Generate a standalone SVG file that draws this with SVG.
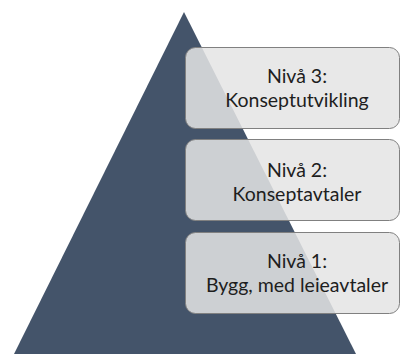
<svg xmlns="http://www.w3.org/2000/svg" width="401" height="354" viewBox="0 0 401 354">
<style>
.box{fill:#e4e4e4;fill-opacity:0.86;stroke:#808080;stroke-width:1}
.t{font-family:Lato,"Open Sans","Liberation Sans",sans-serif;font-size:19.5px;fill:#1e1e1e;text-anchor:middle}
</style>
<rect width="401" height="354" fill="#ffffff"/>
<g id="pyramid"><polygon points="184,12 14,354 356,354" fill="#44546a"/></g>
<g id="connectors"></g>
<g id="level3">
<rect class="box" x="185.5" y="47.5" width="214" height="81" rx="10"/>
<text class="t" x="297" y="83">Nivå 3:</text>
<text class="t" x="297" y="107">Konseptutvikling</text>
</g>
<g id="level2">
<rect class="box" x="185.5" y="139.5" width="214" height="81" rx="10"/>
<text class="t" x="297" y="177">Nivå 2:</text>
<text class="t" x="297" y="201">Konseptavtaler</text>
</g>
<g id="level1">
<rect class="box" x="185.5" y="232.5" width="214" height="81" rx="10"/>
<text class="t" x="297" y="268">Nivå 1:</text>
<text class="t" x="297" y="292">Bygg, med leieavtaler</text>
</g>
</svg>
